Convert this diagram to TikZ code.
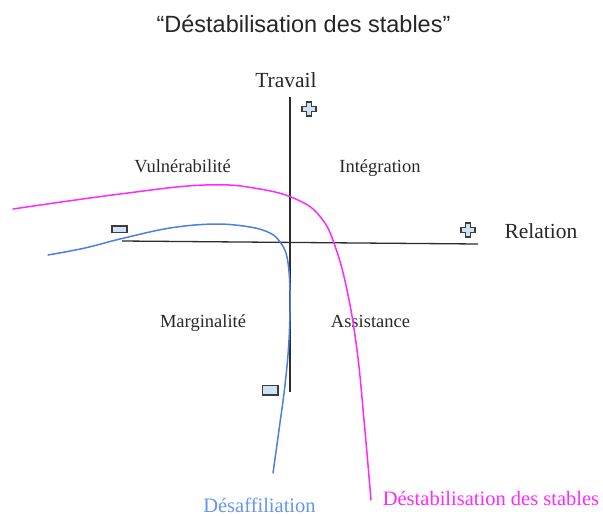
\documentclass[tikz,border=0pt]{standalone}
\usepackage{fontspec}
\setmainfont{Liberation Serif}
\newfontfamily\titlefont{Liberation Sans}
\definecolor{axisgray}{RGB}{45,45,45}
\definecolor{textgray}{RGB}{40,40,40}
\definecolor{curvemag}{RGB}{255,40,255}
\definecolor{curveblue}{RGB}{74,128,226}
\definecolor{labelblue}{RGB}{100,150,235}
\definecolor{signfill}{RGB}{207,226,243}
\definecolor{signline}{RGB}{60,60,60}
\tikzset{
  axisline/.style={draw=axisgray, line width=1.3pt},
  curve/.style={line width=1.5pt, line cap=round},
  quadlabel/.style={anchor=base, text=textgray, font=\fontsize{18.5}{22}\selectfont, inner sep=0pt},
  axislabel/.style={anchor=base, text=textgray, font=\fontsize{21.5}{25}\selectfont, inner sep=0pt},
  curvelabel/.style={anchor=base, font=\fontsize{20.5}{24}\selectfont, inner sep=0pt},
  signbox/.style={draw=signline, fill=signfill, line width=1.2pt},
  pics/plussign/.style={code={
    \draw[signbox] (-2.5,-7) -- (2.5,-7) -- (2.5,-2.5) -- (7,-2.5) -- (7,2.5) -- (2.5,2.5)
      -- (2.5,7) -- (-2.5,7) -- (-2.5,2.5) -- (-7,2.5) -- (-7,-2.5) -- (-2.5,-2.5) -- cycle;
  }},
}
\begin{document}
\begin{tikzpicture}[x=1pt, y=-1pt]
\useasboundingbox (0,0) rectangle (603,515);

% title
\node[anchor=base, inner sep=0pt, text=black!85, font=\titlefont\fontsize{23.5}{28}\selectfont] (title) at (303.5,32) {“Déstabilisation des stables”};

% axes
\coordinate (vtop) at (290,97);
\coordinate (vbot) at (290,392);
\coordinate (hleft) at (122,241);
\coordinate (hright) at (478,244);
\draw[axisline] (vtop) -- (vbot);
\draw[axisline] (hleft) -- (hright);

% axis labels
\node[axislabel] (travail) at (286,87) {Travail};
\node[axislabel] (relation) at (541,238) {Relation};

% plus / minus signs
\pic at (309,109) {plussign};
\pic at (468,230) {plussign};
\draw[signbox] (112,226) rectangle (127,232.5);
\draw[signbox] (262.5,385.5) rectangle (278,395);

% quadrant labels
\node[quadlabel] (vuln) at (182.5,172) {Vulnérabilité};
\node[quadlabel] (integ) at (380,172) {Intégration};
\node[quadlabel] (marg) at (203,327) {Marginalité};
\node[quadlabel] (assist) at (370.5,327) {Assistance};

% magenta curve
\draw[curve, curvemag] plot[smooth, tension=0.7] coordinates {
  (13,209) (120,194) (205,185) (260,189) (300,201) (322,219) (335,246)
  (347,290) (357,350) (364,420) (371,500)};

% blue curve
\draw[curve, curveblue] plot[smooth, tension=0.6] coordinates {
  (48,255) (85,248) (120,239) (170,228) (215,224) (250,227) (270,233)
  (280,242) (287,257) (290,290) (289,340) (285,385) (279,430) (273,473)};

% curve labels
\node[curvelabel, text=labelblue] (desaff) at (259.5,512) {Désaffiliation};
\node[curvelabel, text=curvemag] (destab) at (491,505) {Déstabilisation des stables};
\end{tikzpicture}
\end{document}
